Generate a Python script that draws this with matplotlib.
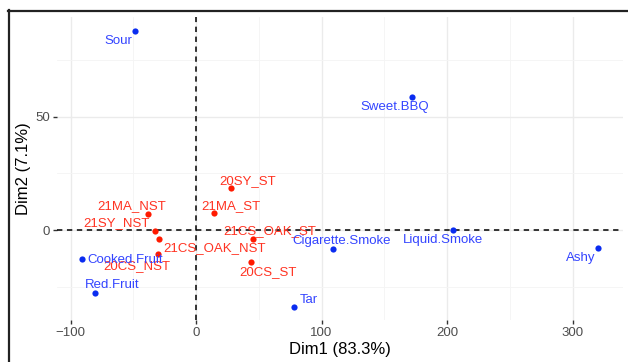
import numpy as np
import matplotlib
matplotlib.use("Agg")
import matplotlib.pyplot as plt
from matplotlib.lines import Line2D

plt.rcParams['font.family'] = ['Liberation Sans', 'DejaVu Sans']

# samples (red)
samples = ['20SY_ST', '21MA_NST', '21MA_ST', '21SY_NST', '21CS_OAK_NST',
           '20CS_NST', '21CS_OAK_ST', '20CS_ST']
samp_x = [27.6, -38.0, 14.1, -32.7, -29.2, -30.0, 45.4, 44.1]
samp_y = [18.4, 7.1, 7.6, -0.3, -4.1, -10.4, -3.8, -14.0]

# attributes (blue)
attrs = ['Sour', 'Sweet.BBQ', 'Cooked.Fruit', 'Red.Fruit', 'Tar',
         'Cigarette.Smoke', 'Liquid.Smoke', 'Ashy']
attr_x = [-48.6, 172.4, -90.6, -80.2, 78.1, 109.4, 205.0, 320.0]
attr_y = [87.8, 58.8, -12.9, -27.8, -33.8, -8.4, 0.0, -8.1]

# repelled label positions (data coords)
samp_lab = [(41.0, 21.6), (-51.4, 10.6), (27.5, 10.6), (-63.7, 3.1),
            (15.1, -7.9), (-47.0, -15.9), (58.7, -0.3), (57.6, -18.5)]
attr_lab = [(-62.2, 83.4), (158.2, 54.5), (-56.6, -13.2), (-66.5, -24.3),
            (89.8, -30.9), (116.3, -4.9), (196.6, -4.4), (306.2, -12.5)]

W, H = 628, 362
fig = plt.figure(figsize=(W / 100, H / 100), dpi=100)
ax = fig.add_axes([57 / W, 1 - 320 / H, (623 - 57) / W, (320 - 17) / H])

ax.set_xlim(-110.8, 340.2)
ax.set_ylim(-39.7, 94.0)

# grid
ax.set_xticks([-100, 0, 100, 200, 300])
ax.set_yticks([0, 50])
ax.set_xticks([-50, 50, 150, 250], minor=True)
ax.set_yticks([-25, 25, 75], minor=True)
ax.grid(which='major', color='#ebebeb', lw=1.0)
ax.grid(which='minor', color='#f4f4f4', lw=0.6)
ax.set_axisbelow(True)
for s in ax.spines.values():
    s.set_visible(False)
ax.tick_params(which='major', length=3, width=1, color='#333333',
               labelcolor='#4d4d4d', labelsize=9.5, pad=2)
ax.tick_params(which='minor', length=0)

ax.axhline(0, color='black', lw=1.1, ls=(0, (3.5, 3)), zorder=2)
ax.axvline(0, color='black', lw=1.1, ls=(0, (3.5, 3)), zorder=2)

ax.scatter(samp_x, samp_y, s=20, color='#ff1a00', zorder=3, linewidths=0)
ax.scatter(attr_x, attr_y, s=20, color='#0a2cf0', zorder=3, linewidths=0)

for name, (lx, ly) in zip(samples, samp_lab):
    ax.text(lx, ly, name, color='#ff3322', fontsize=9.5,
            ha='center', va='center', zorder=4)
for name, (lx, ly) in zip(attrs, attr_lab):
    ax.text(lx, ly, name, color='#3344ff', fontsize=9.5,
            ha='center', va='center', zorder=4)

ax.set_xlabel('Dim1 (83.3%)', fontsize=12, labelpad=2)
ax.set_ylabel('Dim2 (7.1%)', fontsize=12, labelpad=3)

# outer frame (top and left visible)
fig.lines.append(Line2D([8.5 / W, 8.5 / W], [0, 1 - 10 / H],
                        transform=fig.transFigure, color='#222222', lw=1.6))
fig.lines.append(Line2D([8 / W, 1], [1 - 10.5 / H, 1 - 10.5 / H],
                        transform=fig.transFigure, color='#222222', lw=1.6))

fig.savefig('out.png', dpi=100)
